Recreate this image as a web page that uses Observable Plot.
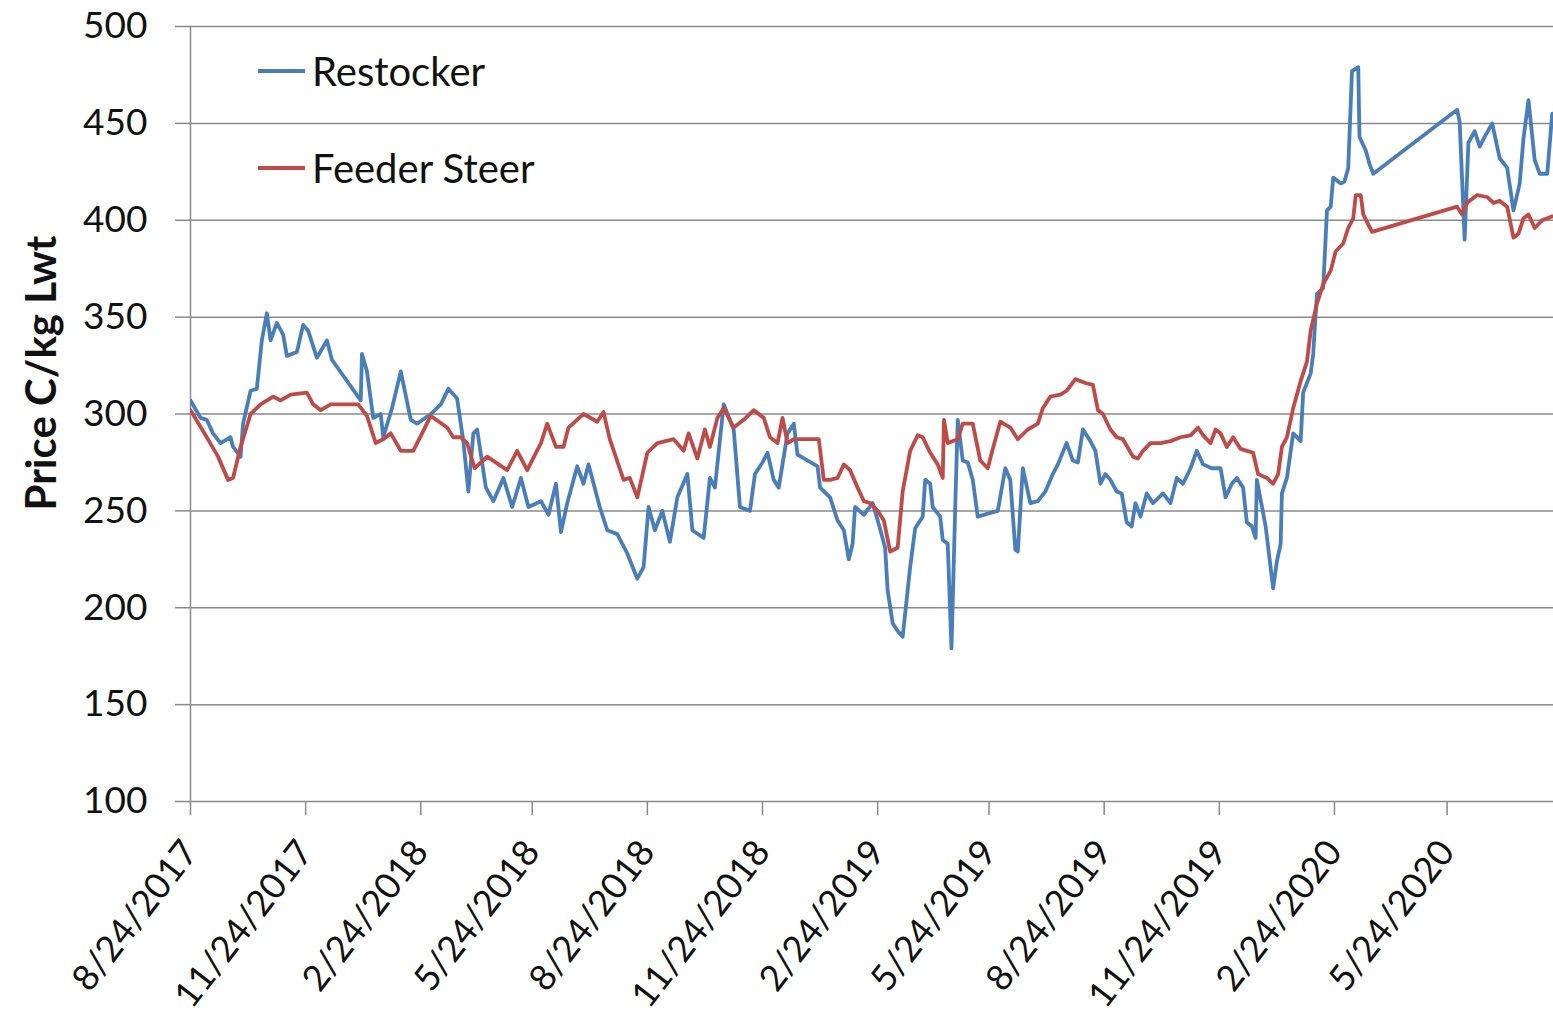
<!DOCTYPE html>
<html>
<head>
<meta charset="utf-8">
<script src="https://cdn.jsdelivr.net/npm/d3@7"></script>
<script src="https://cdn.jsdelivr.net/npm/@observablehq/plot@0.6"></script>
<style>
  html, body { margin: 0; padding: 0; background: #fff; }
  #wrap { position: relative; width: 1553px; height: 1027px; overflow: hidden; font-family: Lato, "Open Sans", sans-serif; }
  .leg { position: absolute; left: 258px; display: flex; align-items: center; font-size: 40px; color: #111; }
  .leg span.sw { display: inline-block; width: 47px; height: 4px; margin-right: 7px; }
</style>
</head>
<body>
<div id="wrap"></div>
<script>
// ---- Data ----
const restockerDates = [
  "2017-08-24","2017-09-01","2017-09-06","2017-09-11","2017-09-17","2017-09-25","2017-09-27","2017-10-03","2017-10-05","2017-10-11",
  "2017-10-16","2017-10-20","2017-10-24","2017-10-27","2017-11-01","2017-11-06","2017-11-09","2017-11-17","2017-11-22","2017-11-26",
  "2017-12-03","2017-12-11","2017-12-15","2018-01-07","2018-01-08","2018-01-12","2018-01-17","2018-01-23","2018-01-25","2018-02-01",
  "2018-02-08","2018-02-16","2018-02-21","2018-03-04","2018-03-12","2018-03-18","2018-03-25","2018-03-30","2018-04-03","2018-04-07",
  "2018-04-10","2018-04-17","2018-04-23","2018-05-01","2018-05-08","2018-05-15","2018-05-21","2018-05-31","2018-06-06","2018-06-12",
  "2018-06-16","2018-06-21","2018-06-29","2018-07-04","2018-07-08","2018-07-17","2018-07-23","2018-07-31","2018-08-08","2018-08-16",
  "2018-08-21","2018-08-25","2018-08-30","2018-09-05","2018-09-11","2018-09-17","2018-09-25","2018-09-29","2018-10-08","2018-10-13",
  "2018-10-17","2018-10-24","2018-11-01","2018-11-06","2018-11-14","2018-11-18","2018-11-24","2018-11-28","2018-12-03","2018-12-07",
  "2018-12-11","2018-12-14","2018-12-19","2018-12-22","2019-01-07","2019-01-09","2019-01-17","2019-01-23","2019-01-28","2019-02-01",
  "2019-02-04","2019-02-06","2019-02-13","2019-02-20","2019-02-25","2019-03-02","2019-03-04","2019-03-08","2019-03-12","2019-03-16",
  "2019-03-20","2019-03-22","2019-03-26","2019-04-01","2019-04-03","2019-04-07","2019-04-09","2019-04-15","2019-04-17","2019-04-21",
  "2019-04-24","2019-04-27","2019-04-29","2019-05-03","2019-05-07","2019-05-11","2019-05-15","2019-05-25","2019-05-31","2019-06-06",
  "2019-06-10","2019-06-14","2019-06-16","2019-06-20","2019-06-26","2019-07-02","2019-07-08","2019-07-14","2019-07-18","2019-07-25",
  "2019-07-30","2019-08-03","2019-08-07","2019-08-13","2019-08-17","2019-08-21","2019-08-25","2019-08-29","2019-09-03","2019-09-07",
  "2019-09-11","2019-09-15","2019-09-18","2019-09-22","2019-09-27","2019-10-02","2019-10-10","2019-10-16","2019-10-21","2019-10-26",
  "2019-11-01","2019-11-06","2019-11-11","2019-11-18","2019-11-25","2019-11-29","2019-12-04","2019-12-08","2019-12-13","2019-12-16",
  "2019-12-20","2019-12-23","2019-12-24","2019-12-31","2020-01-06","2020-01-09","2020-01-12","2020-01-13","2020-01-17","2020-01-22",
  "2020-01-28","2020-01-30","2020-02-05","2020-02-07","2020-02-10","2020-02-15","2020-02-18","2020-02-21","2020-02-23","2020-02-29",
  "2020-03-03","2020-03-06","2020-03-09","2020-03-14","2020-03-15","2020-03-20","2020-03-23","2020-03-26","2020-06-01","2020-06-03",
  "2020-06-07","2020-06-10","2020-06-15","2020-06-19","2020-06-23","2020-06-29","2020-07-05","2020-07-11","2020-07-16","2020-07-21",
  "2020-07-24","2020-07-28","2020-08-02","2020-08-06","2020-08-12","2020-08-16"
];
const restockerValues = [
  307,298,297,290,285,288,283,278,295,312,
  313,338,352,338,347,341,330,332,346,343,
  329,338,328,307,331,322,298,300,288,303,
  322,297,295,300,305,313,308,286,260,290,
  292,262,255,267,252,267,252,255,248,264,
  239,254,273,264,274,252,240,238,228,215,
  221,252,240,250,234,257,269,240,236,267,
  262,305,292,252,250,269,275,280,266,262,
  278,290,295,279,273,262,257,245,240,225,
  233,252,248,254,243,231,209,192,188,185,
  209,221,241,247,266,264,252,247,235,233,
  179,252,297,276,275,266,247,249,250,272,
  266,230,229,272,254,255,260,269,274,285,
  276,275,292,286,281,264,269,266,260,259,
  244,242,254,247,259,254,259,254,267,264,
  272,281,274,272,272,257,264,267,262,244,
  242,236,266,242,210,224,233,259,267,290,
  286,311,321,331,362,365,405,407,422,419,
  420,427,477,479,443,436,429,424,457,451,
  390,440,446,438,443,450,432,427,405,419,
  442,462,431,424,424,455
];

const feederDates = [
  "2017-08-24","2017-09-06","2017-09-15","2017-09-23","2017-09-27","2017-10-03","2017-10-11","2017-10-19","2017-10-29","2017-11-04",
  "2017-11-12","2017-11-25","2017-11-30","2017-12-06","2017-12-14","2018-01-05","2018-01-12","2018-01-19","2018-01-25","2018-01-31",
  "2018-02-08","2018-02-18","2018-03-04","2018-03-17","2018-03-22","2018-03-28","2018-04-02","2018-04-08","2018-04-18","2018-05-04",
  "2018-05-12","2018-05-20","2018-05-31","2018-06-05","2018-06-12","2018-06-18","2018-06-22","2018-07-04","2018-07-15","2018-07-20",
  "2018-07-25","2018-08-05","2018-08-10","2018-08-16","2018-08-24","2018-09-01","2018-09-14","2018-09-22","2018-09-26","2018-10-03",
  "2018-10-09","2018-10-13","2018-10-19","2018-10-24","2018-11-01","2018-11-09","2018-11-17","2018-11-25","2018-11-30","2018-12-06",
  "2018-12-10","2018-12-14","2018-12-19","2019-01-08","2019-01-12","2019-01-17","2019-01-23","2019-01-28","2019-02-02","2019-02-08",
  "2019-02-13","2019-02-18","2019-02-24","2019-03-01","2019-03-06","2019-03-12","2019-03-16","2019-03-22","2019-03-28","2019-04-01",
  "2019-04-07","2019-04-13","2019-04-17","2019-04-18","2019-04-21","2019-04-29","2019-05-03","2019-05-11","2019-05-17","2019-05-23",
  "2019-05-27","2019-06-02","2019-06-10","2019-06-16","2019-06-24","2019-07-02","2019-07-06","2019-07-12","2019-07-20","2019-07-25",
  "2019-08-01","2019-08-09","2019-08-15","2019-08-19","2019-08-23","2019-08-29","2019-09-03","2019-09-08","2019-09-16","2019-09-20",
  "2019-09-24","2019-09-30","2019-10-08","2019-10-16","2019-10-24","2019-11-01","2019-11-07","2019-11-11","2019-11-17","2019-11-21",
  "2019-11-25","2019-11-30","2019-12-05","2019-12-11","2019-12-16","2019-12-21","2019-12-25","2020-01-01","2020-01-06","2020-01-10",
  "2020-01-13","2020-01-17","2020-01-22","2020-01-28","2020-02-02","2020-02-05","2020-02-10","2020-02-15","2020-02-21","2020-02-25",
  "2020-03-02","2020-03-06","2020-03-10","2020-03-12","2020-03-16","2020-03-18","2020-03-25","2020-06-01","2020-06-05","2020-06-09",
  "2020-06-17","2020-06-25","2020-06-30","2020-07-05","2020-07-11","2020-07-16","2020-07-20","2020-07-24","2020-07-28","2020-08-02",
  "2020-08-08","2020-08-16"
];
const feederValues = [
  302,288,278,266,267,283,300,305,309,307,
  310,311,305,302,305,305,299,285,287,290,
  281,281,299,293,288,288,285,272,278,271,
  281,271,285,295,283,283,293,300,296,301,
  287,266,267,257,280,285,287,281,290,277,
  292,283,298,303,293,297,302,298,288,285,
  298,285,287,287,266,266,267,274,271,262,
  255,254,250,245,229,231,260,281,289,288,
  280,274,267,297,285,287,295,295,276,272,
  282,296,293,287,292,295,303,309,310,312,
  318,316,315,302,300,292,288,287,278,277,
  281,285,285,286,288,289,293,289,285,292,
  290,283,288,282,281,280,269,267,264,269,
  283,288,303,317,327,343,357,367,374,384,
  388,396,401,413,413,403,394,407,403,409,
  413,412,409,410,407,391,393,401,403,396,
  400,402
];

const yTicks = [100, 150, 200, 250, 300, 350, 400, 450, 500];
const xTickLabels = ["8/24/2017","11/24/2017","2/24/2018","5/24/2018","8/24/2018","11/24/2018",
                     "2/24/2019","5/24/2019","8/24/2019","11/24/2019","2/24/2020","5/24/2020"];
const xDomain = ["2017-08-24", "2020-08-17"];
const seriesNames = ["Restocker", "Feeder Steer"];
const seriesColors = ["#4a7ebb", "#be4b48"];

// ---- Build tables ----
const parseDate = s => new Date(s + "T00:00:00Z");
const restocker = restockerDates.map((d, i) => ({date: parseDate(d), value: restockerValues[i], series: seriesNames[0]}));
const feeder = feederDates.map((d, i) => ({date: parseDate(d), value: feederValues[i], series: seriesNames[1]}));
const xTicks = xTickLabels.map(s => { const [m, d, y] = s.split("/").map(Number); return new Date(Date.UTC(y, m - 1, d)); });
const fmt = d => `${d.getUTCMonth() + 1}/${d.getUTCDate()}/${d.getUTCFullYear()}`;

const gridColor = "#8a8a8a";
const chart = Plot.plot({
  width: 1553,
  height: 1027,
  marginLeft: 190,
  marginRight: 0,
  marginTop: 26,
  marginBottom: 226,
  style: {fontFamily: "Lato, 'Open Sans', sans-serif", fontSize: "37px", color: "#111", background: "#fff", overflow: "visible"},
  x: {type: "utc", domain: xDomain.map(parseDate)},
  y: {domain: [100, 500]},
  marks: [
    Plot.gridY(yTicks, {stroke: gridColor, strokeOpacity: 1, strokeWidth: 1.5}),
    Plot.ruleX([parseDate(xDomain[0])], {stroke: gridColor, strokeWidth: 1.5}),
    Plot.axisY(yTicks, {tickSize: 15, tickPadding: 28, stroke: gridColor, strokeWidth: 1.5, label: null, fontSize: 37, fill: "#111"}),
    Plot.axisX(xTicks, {tickSize: 14, tickPadding: 30, tickRotate: -52, stroke: gridColor, strokeWidth: 1.5, label: null, tickFormat: fmt, fontSize: 36, fill: "#111"}),
    Plot.text(["Price C/kg Lwt"], {frameAnchor: "left", dx: -148, dy: -41, rotate: -90, textAnchor: "middle", fontWeight: "bold", fontSize: 42, fill: "#111"}),
    Plot.line(restocker, {x: "date", y: "value", stroke: seriesColors[0], strokeWidth: 3.8, clip: true}),
    Plot.line(feeder, {x: "date", y: "value", stroke: seriesColors[1], strokeWidth: 3.8, clip: true})
  ]
});

const wrap = document.getElementById("wrap");
wrap.appendChild(chart);
// legend inside the plot area
[[0, 71], [1, 168]].forEach(([i, top]) => {
  const div = document.createElement("div");
  div.className = "leg";
  div.style.top = (top - 24) + "px";
  div.style.height = "48px";
  div.innerHTML = `<span class="sw" style="background:${seriesColors[i]}"></span><span>${seriesNames[i]}</span>`;
  wrap.appendChild(div);
});
</script>
</body>
</html>
